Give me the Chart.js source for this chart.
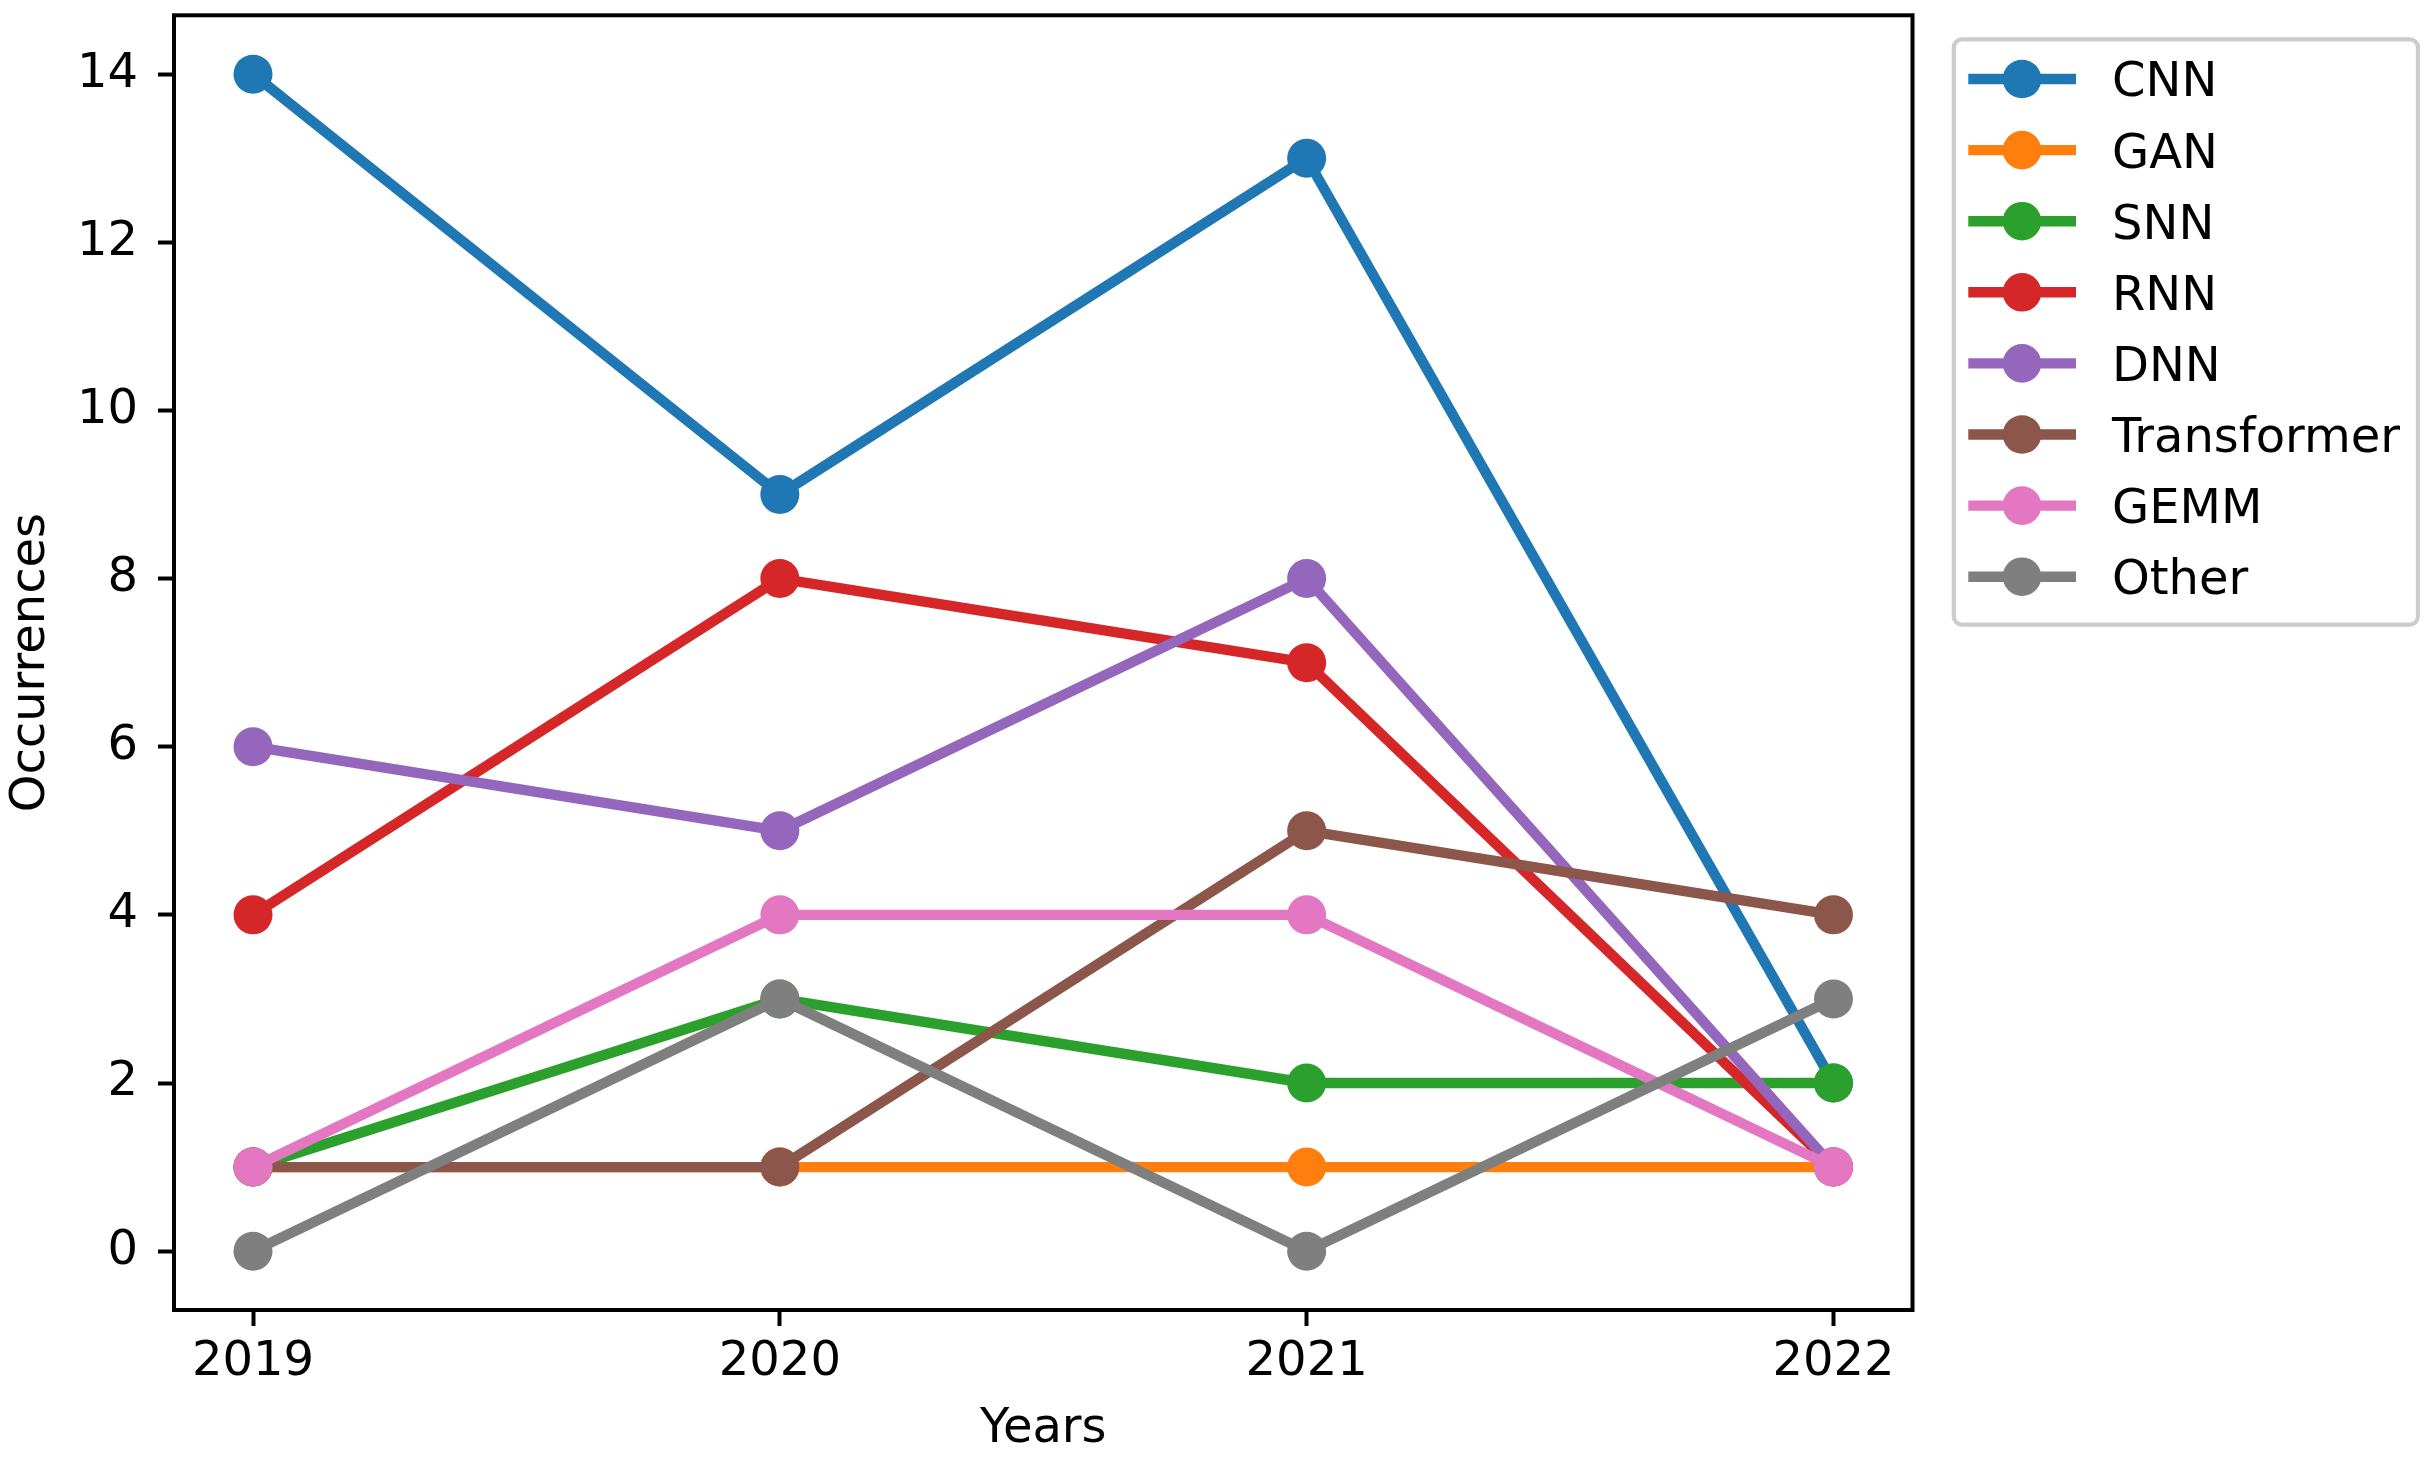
<!DOCTYPE html>
<html>
<head>
<meta charset="utf-8">
<script src="https://cdn.jsdelivr.net/npm/chart.js@4.4.0/dist/chart.umd.min.js"></script>
<style>
  html, body { margin: 0; padding: 0; background: #fff; }
  #wrap { width: 2431px; height: 1467px; }
</style>
</head>
<body>
<div id="wrap"><canvas id="occChart" width="2431" height="1467"></canvas></div>
<script>
const years = [2019, 2020, 2021, 2022]
const cnn = [14, 9, 13, 2]
const gan = [1, 1, 1, 1]
const snn = [1, 3, 2, 2]
const rnn = [4, 8, 7, 1]
const dnn = [6, 5, 8, 1]
const transformer = [1, 1, 5, 4]
const gemm = [1, 4, 4, 1]
const other = [0, 3, 0, 3]
const seriesNames = ['CNN', 'GAN', 'SNN', 'RNN', 'DNN', 'Transformer', 'GEMM', 'Other']
const yTicks = [0, 2, 4, 6, 8, 10, 12, 14]

const seriesValues = [cnn, gan, snn, rnn, dnn, transformer, gemm, other]
const colors = ['#1f77b4', '#ff7f0e', '#2ca02c', '#d62728', '#9467bd', '#8c564b', '#e377c2', '#7f7f7f']

const FONT = 'DejaVu Sans'
const FS = 48
Chart.defaults.font.family = FONT
Chart.defaults.color = '#000'

// white page behind everything
const whiteBg = {
    id: 'whiteBg',
    beforeDraw(chart) {
        const ctx = chart.ctx
        ctx.save()
        ctx.fillStyle = '#fff'
        ctx.fillRect(0, 0, chart.width, chart.height)
        ctx.restore()
    }
}

// black box round the plot, drawn over the lines like matplotlib spines
const axesFrame = {
    id: 'axesFrame',
    afterDatasetsDraw(chart) {
        const a = chart.chartArea
        const ctx = chart.ctx
        ctx.save()
        ctx.strokeStyle = '#000'
        ctx.lineWidth = 4
        ctx.lineJoin = 'miter'
        ctx.strokeRect(a.left, a.top, a.right - a.left, a.bottom - a.top)
        ctx.restore()
    }
}

// legend outside the plot, line + marker handles in a rounded grey box
const sideLegend = {
    id: 'sideLegend',
    afterDraw(chart) {
        const ctx = chart.ctx
        const box = { left: 1953.8, top: 39.4, right: 2417.9, bottom: 624.6, r: 8 }
        ctx.save()
        ctx.beginPath()
        ctx.roundRect(box.left, box.top, box.right - box.left, box.bottom - box.top, box.r)
        ctx.fillStyle = 'rgba(255,255,255,0.8)'
        ctx.fill()
        ctx.lineWidth = 4.2
        ctx.strokeStyle = '#cccccc'
        ctx.stroke()

        chart.data.datasets.forEach(function(ds, i) {
            const cy = 79 + i * 71.1
            ctx.beginPath()
            ctx.moveTo(1968.3, cy)
            ctx.lineTo(2076, cy)
            ctx.lineWidth = 10.4
            ctx.lineCap = 'butt'
            ctx.strokeStyle = ds.borderColor
            ctx.stroke()
            ctx.beginPath()
            ctx.arc(2022, cy, 19.3, 0, Math.PI * 2)
            ctx.fillStyle = ds.backgroundColor
            ctx.fill()
            ctx.fillStyle = '#000'
            ctx.font = FS + 'px "' + FONT + '"'
            ctx.textAlign = 'left'
            ctx.textBaseline = 'alphabetic'
            ctx.fillText(ds.label, 2112, cy + 0.3645 * FS)
        })
        ctx.restore()
    }
}

const datasets = seriesNames.map(function(name, i) {
    return {
        label: name,
        data: years.map((yr, j) => ({ x: yr, y: seriesValues[i][j] })),
        borderColor: colors[i],
        backgroundColor: colors[i],
        borderWidth: 10.4,
        borderJoinStyle: 'round',
        tension: 0,
        pointRadius: 19.5,
        pointHoverRadius: 19.5,
        pointBorderWidth: 0,
        pointBackgroundColor: colors[i],
        order: seriesNames.length - 1 - i
    }
})

new Chart(document.getElementById('occChart'), {
    type: 'line',
    data: { datasets: datasets },
    options: {
        responsive: false,
        animation: false,
        devicePixelRatio: 1,
        layout: {
            autoPadding: false,
            padding: { left: 0, top: 15.3, right: 518.5, bottom: 0 }
        },
        plugins: {
            legend: { display: false },
            tooltip: { enabled: false }
        },
        scales: {
            x: {
                type: 'linear',
                min: 2018.85,
                max: 2022.15,
                afterBuildTicks: s => { s.ticks = years.map(v => ({ value: v })) },
                afterFit: s => {
                    s.height = 157
                    s.paddingLeft = 0
                    s.paddingRight = 0
                },
                ticks: {
                    callback: v => String(v),
                    font: { size: FS, lineHeight: 1 },
                    color: '#000',
                    padding: 13,
                    maxRotation: 0,
                    autoSkip: false
                },
                grid: { drawOnChartArea: false, drawTicks: true, tickLength: 16, tickWidth: 4, tickColor: '#000' },
                border: { display: false },
                title: {
                    display: true,
                    text: 'Years',
                    color: '#000',
                    font: { size: FS, lineHeight: 1 },
                    padding: { top: 0, bottom: 13 }
                }
            },
            y: {
                type: 'linear',
                min: -0.7,
                max: 14.7,
                afterBuildTicks: s => { s.ticks = yTicks.map(v => ({ value: v })) },
                afterFit: s => {
                    s.width = 174
                    s.paddingTop = 0
                    s.paddingBottom = 0
                },
                ticks: {
                    font: { size: FS, lineHeight: 1 },
                    color: '#000',
                    padding: 20
                },
                grid: { drawOnChartArea: false, drawTicks: true, tickLength: 16, tickWidth: 4, tickColor: '#000' },
                border: { display: false },
                title: {
                    display: true,
                    text: 'Occurrences',
                    color: '#000',
                    font: { size: FS, lineHeight: 1 },
                    padding: { top: 7.7, bottom: 0 }
                }
            }
        }
    },
    plugins: [whiteBg, axesFrame, sideLegend]
})
</script>
</body>
</html>
